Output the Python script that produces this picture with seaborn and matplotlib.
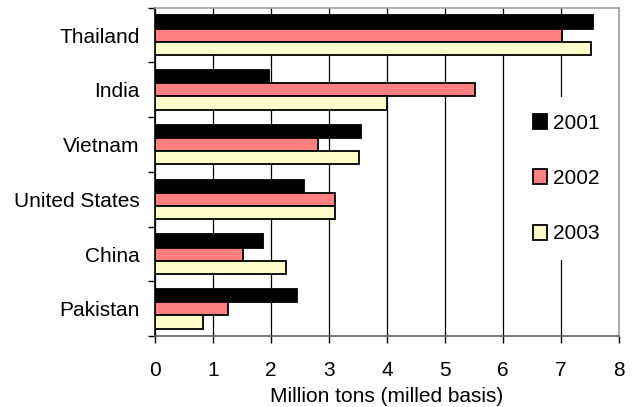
import numpy as np
import pandas as pd
import matplotlib
matplotlib.use("Agg")
import matplotlib.pyplot as plt
import seaborn as sns

countries = ["Thailand", "India", "Vietnam", "United States", "China", "Pakistan"]
years = ["2001", "2002", "2003"]
exports_2001 = [7.55, 1.96, 3.55, 2.57, 1.87, 2.44]
exports_2002 = [7.01, 5.52, 2.81, 3.11, 1.51, 1.26]
exports_2003 = [7.51, 4.00, 3.52, 3.11, 2.26, 0.82]
colors = ["#000000", "#FF8080", "#FFFFCC"]

df = pd.DataFrame({
    "country": countries * 3,
    "year": sum([[y] * len(countries) for y in years], []),
    "value": exports_2001 + exports_2002 + exports_2003,
})

sns.set_style("white")
plt.rcParams["font.family"] = ["Liberation Sans", "DejaVu Sans"]
plt.rcParams["text.color"] = "black"
plt.rcParams["axes.labelcolor"] = "black"
plt.rcParams["xtick.color"] = "black"
plt.rcParams["ytick.color"] = "black"

fs = 15

fig = plt.figure(figsize=(6.36, 4.07), dpi=100)
ax = fig.add_axes([0.2437, 0.174, 0.7296, 0.807])

sns.barplot(data=df, y="country", x="value", hue="year", order=countries,
            hue_order=years, palette=colors, orient="h", width=0.72,
            edgecolor="black", linewidth=1.3, saturation=1, ax=ax, zorder=3)

ax.set_xlim(0, 8)
ax.set_ylim(5.5, -0.5)
ax.set_xticks(range(0, 9))
ax.xaxis.grid(True, color="black", linewidth=0.9)
ax.yaxis.grid(False)
ax.set_axisbelow(True)

ax.set_yticks(np.arange(-0.5, 6, 1), minor=True)
ax.tick_params(axis="y", which="major", length=0, pad=11, labelsize=fs)
ax.tick_params(axis="y", which="minor", length=5, width=1, color="black",
               direction="out", left=True)
ax.tick_params(axis="x", which="major", length=5, width=1, color="black",
               direction="out", bottom=True, labelsize=fs, pad=13)

ax.set_ylabel("")
ax.set_xlabel("Million tons (milled basis)", fontsize=fs, labelpad=5)

for side in ["top", "right"]:
    ax.spines[side].set_color("#A0A0A0")
    ax.spines[side].set_linewidth(1.2)
ax.spines["bottom"].set_color("#606060")
ax.spines["bottom"].set_linewidth(1.2)
ax.spines["left"].set_color("black")
ax.spines["left"].set_linewidth(1.2)

leg = ax.legend(loc="center", bbox_to_anchor=(0.887, 0.48), frameon=True,
                framealpha=1, edgecolor="none", facecolor="white",
                handlelength=0.65, handleheight=0.75, handletextpad=0.3,
                labelspacing=1.75, borderpad=0.8, fontsize=fs)
leg.set_zorder(5)

fig.savefig("out.png", dpi=100)
